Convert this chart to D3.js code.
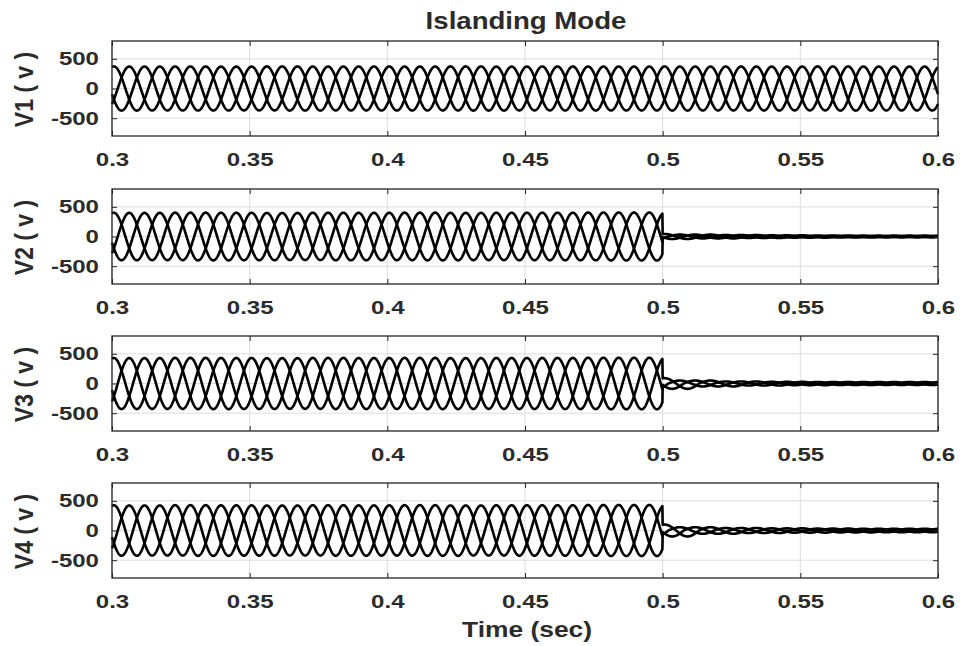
<!DOCTYPE HTML>
<html>
<head>
<meta charset="utf-8">
<title>Islanding Mode</title>
<style>
	body { margin: 0; background: #fff; }
	text { font-family: "Liberation Sans", Arial, sans-serif; font-weight: bold; fill: #2b2b2b; }
</style>
</head>

<body>
<div id="chart"></div>

	<script src="https://cdnjs.cloudflare.com/ajax/libs/d3/7.8.5/d3.min.js" charset="utf-8"></script>
	<script>
	// time axis
	var tStart = 0.3, tEnd = 0.6, tEvent = 0.5;
	var freq = 60;        // Hz, 18 cycles between 0.3 and 0.6 s
	var phaseDeg = 75;    // angle of phase a at t = 0
	var sampleStep = 0.0001;

	var xTicks = [0.3, 0.35, 0.4, 0.45, 0.5, 0.55, 0.6];
	var xTickLabels = ["0.3", "0.35", "0.4", "0.45", "0.5", "0.55", "0.6"];
	var yTicks = [500, 0, -500];
	var yTickLabels = ["500", "0", "-500"];
	var panelNames = ["V1 ( v )", "V2 ( v )", "V3 ( v )", "V4 ( v )"];

	// peak voltage of each 60 Hz cycle (12 before islanding, 6 after)
	var v1Peak = [372, 370, 371, 369, 372, 370, 371, 370, 372, 369, 371, 370, 372, 370, 371, 369, 372, 370];
	var v2Peak = [400, 398, 402, 400, 397, 401, 399, 402, 398, 400, 401, 404, 42, 32, 25, 20, 17, 15];
	var v3Peak = [430, 428, 432, 430, 427, 431, 429, 432, 428, 430, 431, 434, 90, 50, 34, 28, 26, 25];
	var v4Peak = [425, 422, 427, 424, 421, 426, 423, 427, 422, 425, 426, 430, 100, 55, 42, 36, 32, 30];
	var peaks = [v1Peak, v2Peak, v3Peak, v4Peak];

	var W = 962, H = 646;
	var left = 112, right = 938;
	var panelTop = [41, 189, 336, 483];
	var panelH = 95;
	var nPre = 12;

	var svg = d3.select("#chart")
				.append("svg")
				.attr("width", W)
				.attr("height", H);

	var x = d3.scaleLinear().domain([tStart, tEnd]).range([left, right]);

	// sample times
	var times = d3.range(0, Math.round((tEnd - tStart) / sampleStep) + 1)
				.map(function(i){ return tStart + i * sampleStep; });

	// one phase; the peak value changes at that phase's own zero crossing
	function wave(peak, k) {
		var w = 2 * Math.PI * freq;
		var ph = phaseDeg * Math.PI / 180 - k * 2 * Math.PI / 3;
		var turn = function(t){ return Math.floor((w * t + ph) / (2 * Math.PI)); };
		var n0 = turn(tStart), nE = turn(tEvent);
		return times.map(function(t){
			var c;
			if (t < tEvent - 1e-9) c = Math.min(nPre - 1, turn(t) - n0);
			else c = Math.min(peak.length - 1, nPre + turn(t) - nE);
			return [t, peak[c] * Math.sin(w * t + ph)];
		});
	}

	// title
	svg.append("text")
		.attr("transform", "translate(526,29) scale(1.2,1)")
		.attr("text-anchor", "middle")
		.style("font-size", "23px")
		.text("Islanding Mode");

	// x label
	svg.append("text")
		.attr("transform", "translate(527,637) scale(1.2,1)")
		.attr("text-anchor", "middle")
		.style("font-size", "22px")
		.text("Time (sec)");

	panelNames.forEach(function(name, p) {
		var top = panelTop[p], bottom = top + panelH;
		var y = d3.scaleLinear().domain([-800, 800]).range([bottom, top]);
		var g = svg.append("g");

		// grid
		g.selectAll(".gx").data(xTicks).enter().append("line")
			.attr("x1", function(d){ return x(d); }).attr("x2", function(d){ return x(d); })
			.attr("y1", top).attr("y2", bottom)
			.attr("stroke", "#dcdcdc").attr("stroke-width", 1);
		g.selectAll(".gy").data(yTicks).enter().append("line")
			.attr("x1", left).attr("x2", right)
			.attr("y1", function(d){ return y(d); }).attr("y2", function(d){ return y(d); })
			.attr("stroke", "#dcdcdc").attr("stroke-width", 1);

		// three phase voltages
		var line = d3.line()
					.x(function(d){ return x(d[0]); })
					.y(function(d){ return y(d[1]); });
		[0, 1, 2].forEach(function(k){
			g.append("path")
				.attr("d", line(wave(peaks[p], k)))
				.attr("fill", "none")
				.attr("stroke", "#000")
				.attr("stroke-width", 2.6)
				.attr("stroke-linejoin", "round");
		});

		// axes, ticks pointing inward
		var xb = g.append("g").attr("transform", "translate(0," + bottom + ")")
			.call(d3.axisBottom(x).tickValues(xTicks).tickSize(-5).tickPadding(17)
				.tickFormat(function(d, i){ return xTickLabels[i]; }));
		var xt = g.append("g").attr("transform", "translate(0," + top + ")")
			.call(d3.axisTop(x).tickValues(xTicks).tickSize(-5).tickFormat(""));
		var yl = g.append("g").attr("transform", "translate(" + left + ",0)")
			.call(d3.axisLeft(y).tickValues(yTicks).tickSize(-5).tickPadding(10)
				.tickFormat(function(d, i){ return yTickLabels[i]; }));
		var yr = g.append("g").attr("transform", "translate(" + right + ",0)")
			.call(d3.axisRight(y).tickValues(yTicks).tickSize(-5).tickFormat(""));

		[xb, xt, yl, yr].forEach(function(a){
			a.select(".domain").remove();
			a.selectAll(".tick line").attr("stroke", "#262626");
			a.attr("font-family", null).attr("font-size", null);
		});
		[xb, yl].forEach(function(a){
			a.selectAll(".tick text")
				.attr("transform", "scale(1.3,1)")
				.attr("fill", "#2b2b2b")
				.style("font-size", "18.5px");
		});

		// box
		g.append("rect")
			.attr("x", left).attr("y", top)
			.attr("width", right - left).attr("height", panelH)
			.attr("fill", "none")
			.attr("stroke", "#262626")
			.attr("stroke-width", 1.3);

		// y label
		g.append("text")
			.attr("transform", "translate(33," + (top + panelH / 2 + 1) + ") scale(1.15,1) rotate(-90)")
			.attr("text-anchor", "middle")
			.style("font-size", "23px")
			.text(name);
	});
	</script>
</body>
</html>
